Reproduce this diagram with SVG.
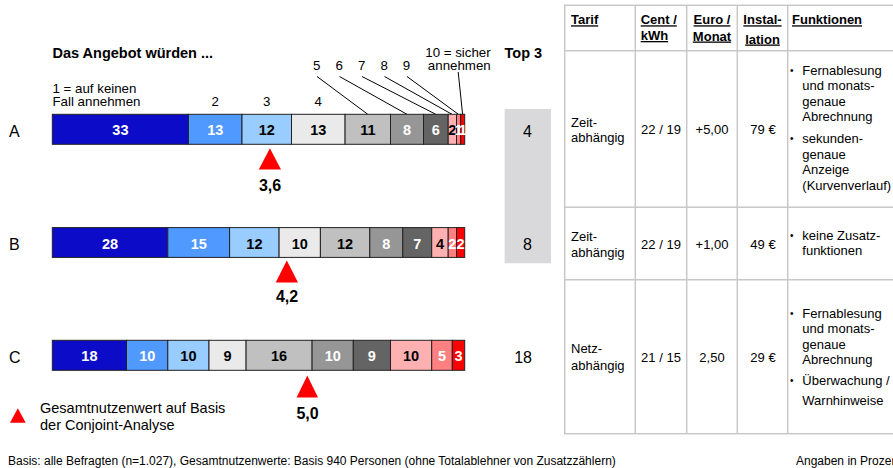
<svg xmlns="http://www.w3.org/2000/svg" width="893" height="468" viewBox="0 0 893 468">
<style>
text{font-family:"Liberation Sans",Arial,Helvetica,sans-serif;fill:#000}
.b{font-weight:bold}
.s13{font-size:13.3px}
.seg{font-size:14.5px;font-weight:bold;text-anchor:middle}
.w{fill:#fff}
.row{font-size:16px}
.val{font-size:16px;font-weight:bold;text-anchor:middle}
.tb{font-size:13px}
.bul{font-size:10px}
.th{font-size:13px;font-weight:bold;text-decoration:underline}
.m{text-anchor:middle}
.e{text-anchor:end}
.c1{fill:#0c0cc8}.c2{fill:#4f99ff}.c3{fill:#99ccff}.c4{fill:#eaeaea}.c5{fill:#c0c0c0}
.c6{fill:#969696}.c7{fill:#646464}.c8{fill:#ffb0b0}.c9{fill:#ff8080}.c10{fill:#ff0000}
.bar rect{stroke:#222;stroke-width:1}
.tri{fill:#ff0000}
.grid{stroke:#c8c8c8;stroke-width:1.5;fill:none}
.lead{stroke:#000;stroke-width:1;fill:none}
</style>

<g id="title">
<text x="52.5" y="57.5" class="b" font-size="14.5">Das Angebot würden ...</text>
<text x="504.6" y="57.5" class="b" font-size="14.5">Top 3</text>
</g>

<g id="scale-labels" class="s13">
<text x="52.5" y="93">1 = auf keinen</text>
<text x="52.5" y="106">Fall annehmen</text>
<text x="215.2" y="106" class="m">2</text>
<text x="266.8" y="106" class="m">3</text>
<text x="318.3" y="106" class="m">4</text>
<text x="316.6" y="70" class="m">5</text>
<text x="339.3" y="70" class="m">6</text>
<text x="361.8" y="70" class="m">7</text>
<text x="384.3" y="70" class="m">8</text>
<text x="406.5" y="70" class="m">9</text>
<text x="490.7" y="57.3" class="e">10 = sicher</text>
<text x="490.7" y="70" class="e">annehmen</text>
</g>

<g id="connectors" class="lead">
<line x1="317" y1="76.5" x2="367.8" y2="114.3"/>
<line x1="339.5" y1="76.5" x2="407" y2="114.3"/>
<line x1="362" y1="76.5" x2="435.8" y2="114.3"/>
<line x1="384.5" y1="76.5" x2="452" y2="114.3"/>
<line x1="407" y1="76.5" x2="458.4" y2="114.3"/>
<line x1="458.2" y1="72" x2="462.6" y2="114.3"/>
</g>

<g id="top3">
<rect x="504.6" y="109" width="46.4" height="154.3" fill="#d9d9db"/>
<text x="532" y="136.7" class="row e">4</text>
<text x="532" y="250" class="row e">8</text>
<text x="532" y="362.7" class="row e">18</text>
</g>

<g id="bar-A" class="bar">
<text x="9" y="136.7" class="row">A</text>
<rect class="c1" x="52.3" y="114.3" width="136.1" height="30"/>
<rect class="c2" x="188.4" y="114.3" width="53.6" height="30"/>
<rect class="c3" x="242" y="114.3" width="49.5" height="30"/>
<rect class="c4" x="291.5" y="114.3" width="53.6" height="30"/>
<rect class="c5" x="345.1" y="114.3" width="45.4" height="30"/>
<rect class="c6" x="390.5" y="114.3" width="33" height="30"/>
<rect class="c7" x="423.5" y="114.3" width="24.7" height="30"/>
<rect class="c8" x="448.2" y="114.3" width="8.3" height="30"/>
<rect class="c9" x="456.5" y="114.3" width="4.1" height="30"/>
<rect class="c10" x="460.6" y="114.3" width="4.1" height="30"/>
<text x="120.4" y="135.3" class="seg w">33</text>
<text x="215.2" y="135.3" class="seg w">13</text>
<text x="266.8" y="135.3" class="seg">12</text>
<text x="318.3" y="135.3" class="seg">13</text>
<text x="367.8" y="135.3" class="seg">11</text>
<text x="407" y="135.3" class="seg w">8</text>
<text x="435.9" y="135.3" class="seg w">6</text>
<text x="452.4" y="135.3" class="seg">2</text>
<text x="458.6" y="135.3" class="seg w">1</text>
<text x="462.7" y="135.3" class="seg w">1</text>
</g>

<g id="bar-B" class="bar">
<text x="9" y="250" class="row">B</text>
<rect class="c1" x="52.3" y="227.6" width="115.5" height="29.8"/>
<rect class="c2" x="167.8" y="227.6" width="61.8" height="29.8"/>
<rect class="c3" x="229.6" y="227.6" width="49.5" height="29.8"/>
<rect class="c4" x="279.1" y="227.6" width="41.3" height="29.8"/>
<rect class="c5" x="320.4" y="227.6" width="49.4" height="29.8"/>
<rect class="c6" x="369.8" y="227.6" width="33" height="29.8"/>
<rect class="c7" x="402.8" y="227.6" width="28.9" height="29.8"/>
<rect class="c8" x="431.7" y="227.6" width="16.5" height="29.8"/>
<rect class="c9" x="448.2" y="227.6" width="8.3" height="29.8"/>
<rect class="c10" x="456.5" y="227.6" width="8.2" height="29.8"/>
<text x="110.1" y="248.6" class="seg w">28</text>
<text x="198.7" y="248.6" class="seg w">15</text>
<text x="254.4" y="248.6" class="seg">12</text>
<text x="299.8" y="248.6" class="seg">10</text>
<text x="345.1" y="248.6" class="seg">12</text>
<text x="386.3" y="248.6" class="seg w">8</text>
<text x="417.3" y="248.6" class="seg w">7</text>
<text x="440" y="248.6" class="seg">4</text>
<text x="452.4" y="248.6" class="seg w">2</text>
<text x="460.6" y="248.6" class="seg w">2</text>
</g>

<g id="bar-C" class="bar">
<text x="9" y="362.7" class="row">C</text>
<rect class="c1" x="52.3" y="340.3" width="74.2" height="30"/>
<rect class="c2" x="126.5" y="340.3" width="41.3" height="30"/>
<rect class="c3" x="167.8" y="340.3" width="41.2" height="30"/>
<rect class="c4" x="209" y="340.3" width="37.1" height="30"/>
<rect class="c5" x="246.1" y="340.3" width="66" height="30"/>
<rect class="c6" x="312.1" y="340.3" width="41.2" height="30"/>
<rect class="c7" x="353.3" y="340.3" width="37.2" height="30"/>
<rect class="c8" x="390.5" y="340.3" width="41.2" height="30"/>
<rect class="c9" x="431.7" y="340.3" width="20.6" height="30"/>
<rect class="c10" x="452.3" y="340.3" width="12.4" height="30"/>
<text x="89.4" y="361.3" class="seg w">18</text>
<text x="147.2" y="361.3" class="seg w">10</text>
<text x="188.4" y="361.3" class="seg">10</text>
<text x="227.6" y="361.3" class="seg">9</text>
<text x="279.1" y="361.3" class="seg">16</text>
<text x="332.7" y="361.3" class="seg w">10</text>
<text x="371.9" y="361.3" class="seg w">9</text>
<text x="411.1" y="361.3" class="seg">10</text>
<text x="442" y="361.3" class="seg w">5</text>
<text x="458.5" y="361.3" class="seg w">3</text>
</g>

<g id="marker-A">
<polygon class="tri" points="258.8,169.5 281,169.5 269.9,148.3"/>
<text x="270" y="190.5" class="val">3,6</text>
</g>
<g id="marker-B">
<polygon class="tri" points="275.7,282.6 298,282.6 286.8,260.5"/>
<text x="287" y="302.3" class="val">4,2</text>
</g>
<g id="marker-C">
<polygon class="tri" points="296.6,397.6 318,397.6 307.3,375.5"/>
<text x="307.5" y="418.7" class="val">5,0</text>
</g>

<g id="legend">
<polygon class="tri" points="10,422.7 25.7,422.7 17.85,408.3"/>
<text x="40" y="412.5" font-size="14.5">Gesamtnutzenwert auf Basis</text>
<text x="40" y="430" font-size="14.5">der Conjoint-Analyse</text>
</g>

<g id="table">
<rect x="564.7" y="5.3" width="340" height="428.4" fill="#fff" class="grid"/>
<line class="grid" x1="635.3" y1="5.3" x2="635.3" y2="433.7"/>
<line class="grid" x1="686.7" y1="5.3" x2="686.7" y2="433.7"/>
<line class="grid" x1="737.3" y1="5.3" x2="737.3" y2="433.7"/>
<line class="grid" x1="787.7" y1="5.3" x2="787.7" y2="433.7"/>
<line class="grid" x1="564.7" y1="50.7" x2="893" y2="50.7"/>
<line class="grid" x1="564.7" y1="207.3" x2="893" y2="207.3"/>
<line class="grid" x1="564.7" y1="279.7" x2="893" y2="279.7"/>

<text x="571" y="24.3" class="th">Tarif</text>
<text x="640.7" y="24.3" class="th">Cent /</text>
<text x="640.7" y="40" class="th">kWh</text>
<text x="712" y="24.3" class="th m">Euro /</text>
<text x="712" y="40.5" class="th m">Monat</text>
<text x="762.5" y="24.3" class="th m">Instal-</text>
<text x="762.5" y="43.5" class="th m">lation</text>
<text x="792" y="24.3" class="th">Funktionen</text>

<text x="571" y="126.7" class="tb">Zeit-</text>
<text x="571" y="142.3" class="tb">abhängig</text>
<text x="661" y="134.3" class="tb m">22 / 19</text>
<text x="712" y="134.3" class="tb m">+5,00</text>
<text x="763" y="134.3" class="tb m">79 €</text>
<text x="790" y="73.5" class="bul">•</text>
<text x="802.3" y="74.5" class="tb">Fernablesung</text>
<text x="802.3" y="90" class="tb">und monats-</text>
<text x="802.3" y="105.5" class="tb">genaue</text>
<text x="802.3" y="121" class="tb">Abrechnung</text>
<text x="790" y="142.3" class="bul">•</text>
<text x="802.3" y="143.3" class="tb">sekunden-</text>
<text x="802.3" y="158.8" class="tb">genaue</text>
<text x="802.3" y="174.3" class="tb">Anzeige</text>
<text x="802.3" y="189.8" class="tb">(Kurvenverlauf)</text>

<text x="571" y="241.3" class="tb">Zeit-</text>
<text x="571" y="257" class="tb">abhängig</text>
<text x="661" y="248.7" class="tb m">22 / 19</text>
<text x="712" y="248.7" class="tb m">+1,00</text>
<text x="763" y="248.7" class="tb m">49 €</text>
<text x="790" y="238.6" class="bul">•</text>
<text x="802.3" y="239.6" class="tb">keine Zusatz-</text>
<text x="802.3" y="255.1" class="tb">funktionen</text>

<text x="571" y="353" class="tb">Netz-</text>
<text x="571" y="369.7" class="tb">abhängig</text>
<text x="661" y="362.3" class="tb m">21 / 15</text>
<text x="712" y="362.3" class="tb m">2,50</text>
<text x="763" y="362.3" class="tb m">29 €</text>
<text x="790" y="316.5" class="bul">•</text>
<text x="802.3" y="317.5" class="tb">Fernablesung</text>
<text x="802.3" y="333" class="tb">und monats-</text>
<text x="802.3" y="348.5" class="tb">genaue</text>
<text x="802.3" y="364" class="tb">Abrechnung</text>
<text x="790" y="384" class="bul">•</text>
<text x="802.3" y="385" class="tb">Überwachung /</text>
<text x="802.3" y="405" class="tb">Warnhinweise</text>
</g>

<g id="footer">
<text x="8" y="464.5" font-size="12">Basis: alle Befragten (n=1.027), Gesamtnutzenwerte: Basis 940 Personen (ohne Totalablehner von Zusatzzählern)</text>
<text x="796" y="464.5" font-size="12">Angaben in Prozent</text>
</g>
</svg>
